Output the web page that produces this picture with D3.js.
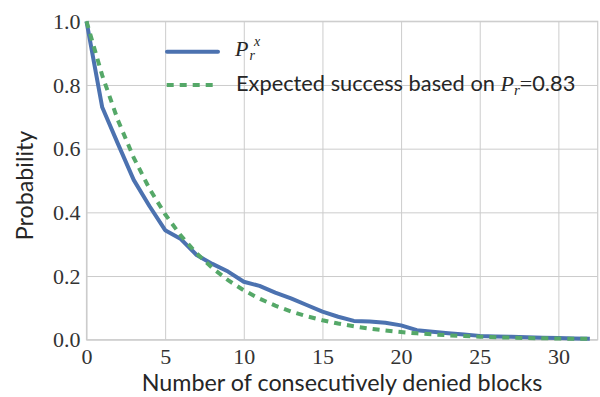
<!DOCTYPE html>
<html>
<head>
<meta charset="utf-8">
<script src="https://cdn.jsdelivr.net/npm/d3@7"></script>
<style>
  body { margin: 0; background: #fff; }
  svg { display: block; }
</style>
</head>
<body>
<svg id="chart" width="600" height="397"></svg>
<script>
// ---- data ----
const blocks = d3.range(0, 33); // 0..32
const observed = [1.0, 0.73, 0.615, 0.502, 0.42, 0.344, 0.316, 0.266, 0.238, 0.214, 0.182,
  0.169, 0.148, 0.130, 0.109, 0.088, 0.072, 0.059, 0.057, 0.053, 0.045,
  0.030, 0.025, 0.020, 0.016, 0.012, 0.010, 0.009, 0.008, 0.006, 0.005, 0.004, 0.003];
const expected = [1.0, 0.83, 0.6889, 0.5718, 0.4746, 0.3939, 0.3269, 0.2714, 0.2252, 0.1869, 0.1552,
  0.1288, 0.1069, 0.0887, 0.0736, 0.0611, 0.0507, 0.0421, 0.0349, 0.0290, 0.0241,
  0.0200, 0.0166, 0.0138, 0.0114, 0.0095, 0.0079, 0.0065, 0.0054, 0.0045, 0.0037, 0.0031, 0.0026];
const xTicks = [0, 5, 10, 15, 20, 25, 30];
const yTicks = [0.0, 0.2, 0.4, 0.6, 0.8, 1.0];
const xLabel = "Number of consecutively denied blocks";
const yLabel = "Probability";
const legendExpectedText = "Expected success based on ";
const prValue = "0.83";

// ---- layout ----
const svg = d3.select("#chart");
const L = 86.5, R = 597.7, T = 21.3, B = 339.7;
const x = d3.scaleLinear().domain([0, 32.5]).range([L, R]);
const y = d3.scaleLinear().domain([0, 1]).range([B, T]);

const gridColor = "#cccccc";
const textColor = "#262626";
const serif = "'Liberation Serif', 'DejaVu Serif', serif";
const sans = "'Lato', 'Liberation Sans', sans-serif";

// grid
const xGrid = d3.axisBottom(x).tickValues(xTicks).tickSize(-(B - T)).tickFormat("");
svg.append("g").attr("transform", `translate(0,${B})`).call(xGrid)
  .call(g => g.select(".domain").remove())
  .call(g => g.selectAll("line").attr("stroke", gridColor).attr("stroke-width", 1));
const yGrid = d3.axisLeft(y).tickValues(yTicks).tickSize(-(R - L)).tickFormat("");
svg.append("g").attr("transform", `translate(${L},0)`).call(yGrid)
  .call(g => g.select(".domain").remove())
  .call(g => g.selectAll("line").attr("stroke", gridColor).attr("stroke-width", 1));

// frame (spines)
svg.append("rect").attr("x", L).attr("y", T).attr("width", R - L).attr("height", B - T)
  .attr("fill", "none").attr("stroke", gridColor).attr("stroke-width", 1.2);

// tick labels via axes
const xAxis = d3.axisBottom(x).tickValues(xTicks).tickSize(0).tickPadding(0).tickFormat(d3.format("d"));
svg.append("g").attr("transform", `translate(0,${B})`).call(xAxis)
  .call(g => g.select(".domain").remove())
  .call(g => g.selectAll("text").attr("dy", null).attr("y", 24.5)
    .attr("font-family", serif).attr("font-size", 22).attr("fill", "#333"));
const yAxis = d3.axisLeft(y).tickValues(yTicks).tickSize(0).tickPadding(6).tickFormat(d3.format(".1f"));
svg.append("g").attr("transform", `translate(${L},0)`).call(yAxis)
  .call(g => g.select(".domain").remove())
  .call(g => g.selectAll("text").attr("dy", "0.32em")
    .attr("font-family", serif).attr("font-size", 22).attr("fill", "#333"));

// lines
const line = d3.line().x((d, i) => x(blocks[i])).y(d => y(d));
svg.append("path").datum(observed).attr("d", line)
  .attr("fill", "none").attr("stroke", "#4c72b0").attr("stroke-width", 4)
  .attr("stroke-linejoin", "round");
svg.append("path").datum(expected).attr("d", line)
  .attr("fill", "none").attr("stroke", "#55a868").attr("stroke-width", 4)
  .attr("stroke-dasharray", "7,6");

// axis labels
svg.append("text").attr("x", (L + R) / 2).attr("y", 391).attr("text-anchor", "middle")
  .attr("font-family", sans).attr("font-size", 23.3).attr("fill", textColor).text(xLabel);
svg.append("text").attr("transform", `translate(33,${(T + B) / 2 + 5}) rotate(-90)`)
  .attr("text-anchor", "middle")
  .attr("font-family", sans).attr("font-size", 23.3).attr("fill", textColor).text(yLabel);

// legend
const lg = svg.append("g");
lg.append("line").attr("x1", 167).attr("x2", 218).attr("y1", 51.7).attr("y2", 51.7)
  .attr("stroke", "#4c72b0").attr("stroke-width", 4).attr("stroke-linecap", "round");
lg.append("line").attr("x1", 166.7).attr("x2", 213).attr("y1", 85).attr("y2", 85)
  .attr("stroke", "#55a868").attr("stroke-width", 4).attr("stroke-dasharray", "7,6");

lg.append("text").attr("x", 235).attr("y", 55.5).attr("fill", textColor)
  .attr("font-family", serif).attr("font-style", "italic").attr("font-size", 22).text("P");
lg.append("text").attr("x", 249.5).attr("y", 59.5).attr("fill", textColor)
  .attr("font-family", serif).attr("font-style", "italic").attr("font-size", 14).text("r");
lg.append("text").attr("x", 254).attr("y", 45.5).attr("fill", textColor)
  .attr("font-family", serif).attr("font-style", "italic").attr("font-size", 14).text("x");

const t2 = lg.append("text").attr("x", 236).attr("y", 90.5).attr("fill", textColor)
  .attr("font-family", sans).attr("font-size", 21.8);
t2.append("tspan").text(legendExpectedText);
t2.append("tspan").attr("font-family", serif).attr("font-style", "italic").attr("font-size", 22).text("P");
t2.append("tspan").attr("font-family", serif).attr("font-style", "italic").attr("font-size", 15).attr("dy", 4).text("r");
t2.append("tspan").attr("font-family", serif).attr("dy", -4).attr("font-size", 22).text("=");
t2.append("tspan").text(prValue);
</script>
</body>
</html>
